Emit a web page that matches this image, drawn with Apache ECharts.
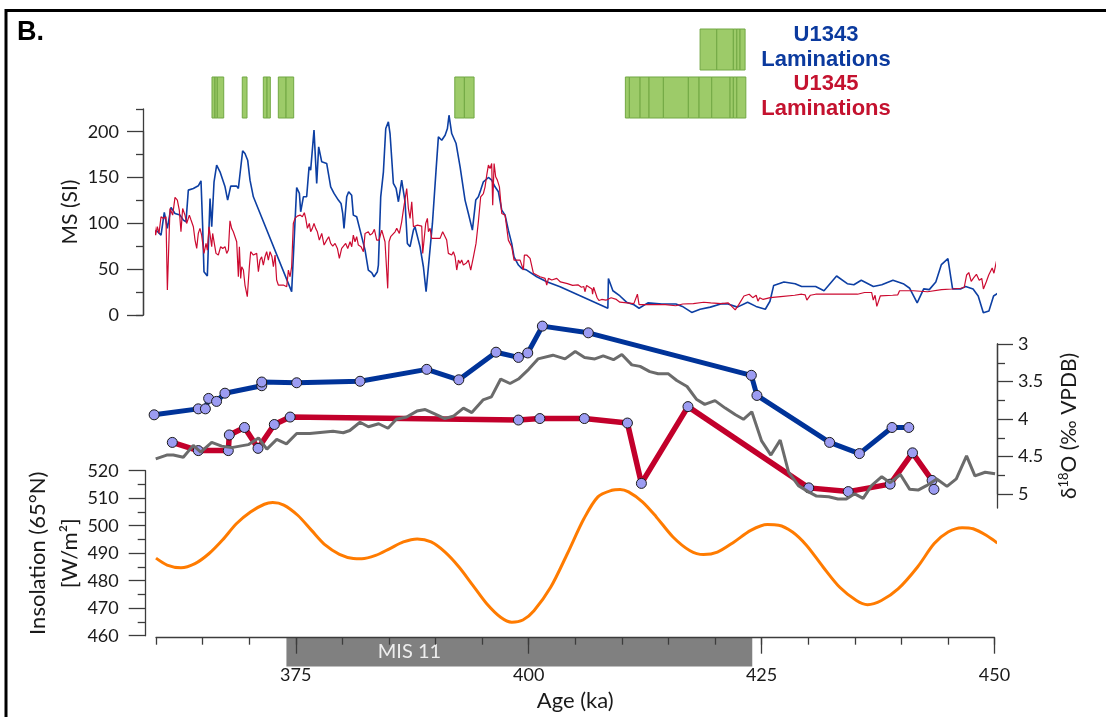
<!DOCTYPE html>
<html><head><meta charset="utf-8">
<script src="https://cdn.jsdelivr.net/npm/echarts@6/dist/echarts.min.js"></script>
<style>html,body{margin:0;padding:0;background:#fff}#c{width:1106px;height:717px}</style>
</head><body><div id="c"></div>
<script>
// ---------------- DATA ----------------
const ageRange = [360, 450];
const ageMajorTicks = [375, 400, 425, 450];

// Magnetic susceptibility (SI) — [age ka, MS]
const msU1343 = [[359.82,90.9],[360.07,92.0],[360.54,87.3],[360.89,112.0],[361.22,94.6],[361.61,117.5],[362.04,110.9],[362.58,109.1],[362.93,103.7],[363.22,101.8],[363.47,136.4],[364.01,138.2],[364.54,141.1],[364.83,146.6],[365.01,96.4],[365.15,47.3],[365.51,42.6],[365.8,127.3],[365.98,96.4],[366.23,145.5],[366.51,163.7],[366.87,156.4],[367.41,140.0],[367.69,125.5],[368.02,140.8],[368.66,140.8],[368.84,138.2],[369.30,179.3],[369.55,176.4],[369.84,169.1],[370.09,147.3],[370.45,129.1],[374.56,25.5],[375.10,139.3],[375.39,132.8],[375.53,112.7],[375.82,129.1],[376.17,129.1],[376.43,161.8],[376.60,158.2],[376.96,201.9],[377.25,143.7],[377.46,183.7],[377.79,167.3],[378.32,165.5],[378.75,140.0],[379.11,132.8],[379.57,125.5],[379.86,121.8],[380.04,110.9],[380.18,94.6],[380.47,129.1],[380.68,134.6],[381.0,130.9],[381.18,109.1],[381.54,107.3],[381.90,92.7],[382.44,70.9],[382.79,49.1],[383.15,46.2],[383.40,41.8],[383.76,47.3],[383.87,54.6],[384.12,129.1],[384.41,156.4],[384.66,203.7],[384.94,210.9],[385.12,198.2],[385.48,143.7],[385.77,138.2],[386.02,123.7],[386.37,147.3],[386.73,123.7],[386.98,78.2],[387.27,74.6],[387.63,92.7],[387.80,96.4],[388.16,81.8],[388.34,74.6],[388.70,52.7],[388.99,25.5],[389.34,63.6],[389.67,100.0],[390.06,158.2],[390.31,194.6],[390.67,190.9],[391.03,196.4],[391.28,203.7],[391.45,218.2],[391.74,198.2],[392.21,187.3],[392.64,161.8],[393.17,125.5],[393.53,110.9],[393.96,92.7],[394.32,125.5],[394.60,129.1],[394.85,136.4],[395.14,145.5],[395.68,150.2],[396.03,147.3],[396.39,140.0],[396.75,134.6],[397.11,114.6],[397.47,109.1],[397.82,92.7],[398.18,78.2],[398.43,63.6],[398.90,54.6],[399.26,50.9],[399.79,49.1],[400.87,41.8],[401.94,36.4],[403.37,30.9],[408.5,7.4],[408.56,39.9],[409.04,26.5],[409.8,20.8],[410.5,14.0],[411.3,11.2],[411.85,7.4],[412.8,13.2],[414.3,12.0],[415.8,12.0],[416.5,9.4],[417.5,2.8],[418.4,6.3],[419.5,8.6],[420.7,12.4],[421.4,12.0],[422.4,8.6],[423.5,14.0],[424.4,9.4],[425.4,6.3],[425.9,15.0],[426.3,32.3],[427.4,36.1],[428.6,34.2],[429.3,31.1],[430.8,31.1],[431.7,26.5],[433.05,42.6],[434.2,34.2],[434.9,33.1],[435.7,38.0],[437.0,31.1],[437.9,33.1],[439.1,38.0],[440.2,34.2],[440.9,29.2],[441.7,13.2],[442.4,28.5],[443.0,27.7],[443.7,36.1],[444.3,55.1],[445.0,61.6],[445.5,28.5],[446.4,28.5],[446.9,31.1],[447.7,28.5],[448.25,20.8],[448.8,2.5],[449.4,4.4],[449.9,20.8],[450.5,24.7]];

const msU1345 = [[359.43,90.9],[359.57,100.0],[359.68,80.0],[359.82,98.2],[359.96,87.3],[360.14,96.4],[360.32,89.1],[360.54,107.3],[360.79,105.5],[361.07,107.3],[361.22,27.3],[361.50,116.4],[361.79,109.1],[362.04,128.4],[362.29,125.5],[362.50,114.6],[362.68,90.9],[362.86,116.4],[363.11,109.1],[363.29,100.0],[363.58,109.1],[363.76,103.7],[364.01,96.4],[364.19,81.8],[364.37,72.7],[364.54,89.1],[364.72,94.6],[364.90,87.3],[365.15,67.3],[365.37,78.2],[365.51,70.9],[365.69,96.4],[365.87,94.6],[365.98,74.6],[366.08,89.1],[366.23,89.1],[366.44,67.3],[366.69,65.5],[366.94,74.6],[367.16,72.7],[367.41,74.6],[367.59,67.3],[367.77,70.9],[367.94,102.9],[368.12,94.6],[368.30,90.9],[368.48,85.5],[368.66,80.0],[368.84,41.8],[368.95,74.6],[369.09,40.0],[369.20,52.7],[369.38,49.1],[369.55,32.7],[369.80,20.0],[370.02,52.7],[370.16,69.1],[370.45,65.5],[370.81,67.3],[370.99,47.3],[371.16,60.0],[371.34,63.6],[371.52,54.6],[371.70,63.6],[371.88,69.1],[372.06,60.0],[372.24,69.1],[372.45,63.6],[372.60,52.7],[372.78,65.5],[372.95,38.2],[373.13,32.7],[373.31,30.9],[373.67,32.7],[374.03,30.9],[374.21,49.1],[374.39,41.8],[374.56,52.7],[374.74,100.0],[374.92,105.5],[375.17,108.0],[375.46,109.1],[375.71,107.3],[375.92,111.7],[376.07,105.5],[376.25,94.6],[376.46,100.0],[376.60,90.9],[376.78,94.6],[376.96,100.0],[377.14,94.6],[377.32,90.9],[377.53,81.8],[377.79,89.1],[378.04,76.4],[378.32,81.8],[378.54,85.5],[378.75,78.2],[378.97,75.3],[379.22,78.2],[379.47,72.7],[379.68,61.8],[379.93,72.7],[380.11,70.9],[380.36,78.2],[380.58,72.7],[380.83,80.0],[381.01,74.6],[381.18,87.3],[381.36,80.0],[381.54,85.5],[381.72,76.4],[382.01,74.6],[382.26,69.1],[382.44,89.1],[382.62,87.3],[382.79,90.9],[382.97,87.3],[383.22,89.1],[383.44,93.5],[383.69,81.8],[383.94,81.8],[384.23,92.7],[384.41,90.9],[384.58,80.0],[384.76,80.0],[384.87,29.1],[385.01,80.0],[385.19,85.5],[385.37,87.3],[385.66,90.9],[385.84,94.6],[386.12,89.1],[386.37,101.8],[386.55,114.6],[386.91,138.2],[387.09,116.4],[387.27,105.5],[387.45,123.7],[387.63,96.4],[387.80,98.2],[388.06,98.2],[388.27,99.3],[388.52,97.1],[388.63,67.3],[388.77,81.8],[388.95,100.0],[389.13,105.5],[389.24,90.9],[389.42,94.6],[389.59,83.7],[389.77,83.7],[390.13,83.7],[390.49,83.7],[390.77,90.9],[391.03,85.5],[391.20,81.8],[391.38,67.3],[391.56,69.1],[391.74,65.5],[391.92,69.1],[392.10,63.6],[392.28,49.1],[392.46,60.0],[392.64,56.4],[392.81,60.0],[392.99,54.6],[393.28,56.4],[393.53,60.0],[393.78,49.1],[394.07,63.6],[394.35,78.2],[394.60,101.8],[394.85,129.1],[395.14,132.7],[395.32,140.0],[395.50,152.8],[395.68,163.7],[395.86,160.0],[396.03,165.5],[396.14,120.0],[396.29,165.5],[396.46,151.0],[396.64,147.3],[396.86,140.0],[397.11,110.9],[397.47,109.1],[397.82,81.8],[398.18,74.6],[398.43,60.0],[398.72,60.0],[399.08,60.0],[399.26,60.0],[399.43,49.1],[399.54,65.5],[399.79,65.5],[400.15,61.8],[400.51,45.5],[400.87,43.6],[401.22,41.8],[401.76,40.0],[401.94,32.7],[402.12,40.0],[402.48,38.2],[403.01,40.0],[403.41,36.1],[404.16,34.2],[404.72,32.3],[405.29,33.0],[405.66,30.3],[405.92,31.1],[406.04,25.4],[406.22,32.3],[406.79,28.4],[406.86,22.7],[406.97,30.3],[407.35,18.9],[407.54,15.8],[407.84,17.0],[408.29,16.2],[408.85,18.9],[409.41,17.0],[409.79,14.0],[410.54,13.2],[411.29,12.4],[411.67,22.7],[411.85,11.3],[412.04,10.1],[412.79,11.3],[413.54,11.3],[414.67,11.3],[415.79,10.1],[416.54,12.0],[417.67,12.4],[418.79,13.9],[419.54,13.2],[420.67,12.4],[421.42,13.2],[422.17,5.6],[422.55,11.3],[423.11,20.8],[423.30,18.9],[423.67,22.7],[424.05,18.9],[424.42,21.6],[424.61,15.1],[424.80,18.9],[425.17,17.0],[425.92,18.9],[427.05,20.1],[428.55,21.6],[429.30,22.7],[429.68,22.0],[429.86,16.2],[430.24,21.6],[430.80,22.7],[432.30,22.7],[434.18,22.7],[435.30,22.7],[436.05,24.6],[436.81,24.6],[436.99,16.2],[437.18,21.6],[437.37,9.4],[437.56,7.5],[437.74,20.8],[437.93,19.7],[439.06,21.6],[439.62,22.0],[439.81,26.5],[441.31,26.5],[442.81,25.4],[444.31,27.7],[445.44,28.4],[446.37,29.2],[446.75,30.3],[447.01,43.7],[447.24,46.4],[447.50,36.8],[447.76,40.6],[448.06,44.5],[448.36,38.0],[448.63,39.9],[448.81,28.4],[449.11,36.1],[449.38,43.7],[449.75,51.3],[449.94,45.6],[450.13,55.1],[450.32,63.5],[450.50,66.6],[450.69,57.0],[450.88,60.9],[451.07,45.6],[451.26,34.2],[451.63,22.7],[452.01,26.5],[452.39,22.7],[452.57,13.2]];

// Benthic δ18O (‰ VPDB) — [age ka, δ18O]
const d18oU1343 = [[359.8,3.95],[364.54,3.87],[365.3,3.87],[365.65,3.73],[366.5,3.77],[367.4,3.66],[371.35,3.56],[371.35,3.51],[375.1,3.52],[381.9,3.50],[389.06,3.34],[392.5,3.48],[396.5,3.11],[398.9,3.18],[399.9,3.12],[401.47,2.76],[406.4,2.85],[423.9,3.42],[424.5,3.69],[432.3,4.32],[435.5,4.47],[439.0,4.12],[440.8,4.12]];
const d18oU1345 = [[361.75,4.32],[364.54,4.43],[367.76,4.43],[367.87,4.22],[369.5,4.12],[370.95,4.40],[372.7,4.08],[374.4,3.98],[398.9,4.02],[401.2,4.0],[405.98,4.0],[410.6,4.06],[412.1,4.87],[417.1,3.84],[430.06,4.93],[434.3,4.98],[438.8,4.88],[441.2,4.46],[443.3,4.83],[443.5,4.95]];
const d18oStack = [[359.97,4.54],[361.15,4.49],[361.86,4.49],[362.93,4.52],[364.0,4.36],[364.8,4.45],[365.98,4.32],[367.05,4.37],[368.1,4.39],[369.9,4.35],[371.0,4.26],[371.9,4.41],[372.96,4.28],[374.0,4.34],[375.1,4.2],[376.5,4.2],[379.0,4.17],[380.1,4.19],[380.8,4.16],[381.9,4.05],[382.8,4.11],[383.9,4.07],[384.9,4.13],[385.8,4.01],[386.9,3.98],[388.0,3.90],[388.9,3.88],[389.8,3.93],[391.0,4.0],[391.9,3.97],[393.0,3.86],[393.9,3.92],[395.1,3.75],[396.0,3.71],[397.0,3.47],[398.0,3.53],[398.9,3.47],[400.0,3.34],[401.0,3.2],[402.6,3.15],[403.9,3.2],[405.0,3.1],[406.0,3.18],[407.1,3.2],[408.0,3.16],[409.1,3.21],[410.0,3.14],[411.07,3.28],[411.96,3.30],[413.0,3.37],[413.9,3.4],[415.0,3.4],[415.9,3.49],[417.0,3.57],[418.0,3.74],[418.9,3.81],[420.0,3.76],[421.1,3.86],[422.2,3.95],[423.05,4.01],[423.95,3.91],[425.0,4.30],[426.0,4.49],[427.0,4.29],[427.9,4.72],[428.95,4.9],[430.0,4.98],[430.9,5.04],[432.2,5.05],[433.2,5.08],[434.1,5.08],[435.0,5.01],[435.9,5.07],[436.8,4.9],[437.9,4.78],[438.8,4.86],[439.9,4.75],[440.9,4.95],[441.8,4.96],[442.7,4.9],[443.8,4.81],[444.9,4.91],[445.9,4.81],[447.0,4.5],[447.9,4.77],[449.0,4.72],[450.06,4.74]];

// Summer insolation 65°N (W/m²) — [age ka, value]
const insolation65N = [[360.0,488.2],[361.19,485.7],[362.68,484.7],[364.18,486.2],[365.67,489.8],[367.16,494.9],[368.65,500.8],[370.14,505.0],[371.63,507.8],[372.53,508.4],[373.72,507.5],[375.21,503.8],[376.70,498.3],[378.19,492.9],[379.69,489.6],[381.18,488.1],[382.08,488.0],[383.57,489.2],[385.06,491.6],[386.55,494.1],[388.04,495.2],[389.53,494.1],[391.03,490.4],[392.52,485.0],[394.01,478.3],[395.50,471.6],[396.99,466.7],[398.19,464.9],[399.38,465.7],[400.57,469.1],[402.36,477.6],[404.15,489.8],[405.94,502.6],[407.43,510.5],[408.93,512.9],[409.82,513.2],[410.72,512.3],[412.21,508.7],[413.70,503.2],[415.49,495.9],[417.28,491.0],[418.77,489.5],[420.26,490.4],[422.05,494.1],[423.84,498.3],[425.63,500.4],[426.83,500.2],[428.32,497.7],[429.81,492.9],[431.60,485.0],[433.39,477.6],[435.18,472.8],[436.37,471.3],[437.86,472.8],[439.65,477.0],[441.74,485.0],[443.53,493.5],[445.02,497.7],[446.52,499.3],[447.71,498.9],[449.11,496.5],[450.30,493.7]];

// Lamination intervals [start ka, end ka]
const lamU1345 = [[366.01,366.33],[366.33,366.58],[366.58,367.27],[369.26,369.77],[371.52,371.92],[371.92,372.27],[373.13,373.96],[373.96,374.78],[392.07,393.10],[393.10,394.14],[410.38,410.81],[410.81,411.96],[411.96,412.92],[412.92,414.46],[414.46,417.14],[417.14,418.29],[418.29,419.65],[419.65,421.62],[421.62,421.97],[421.97,422.34],[422.34,423.31]];
const lamU1343 = [[418.40,420.19],[420.19,421.97],[421.97,422.34],[422.34,422.69],[422.69,423.23]];

// Marine isotope stage
const misStages = [['MIS 11', 374, 424]];

// ---------------- CHART ----------------
const AX = '#3c3c3c';
const TXT = '#1a1a1a';
const FONT = 'Lato';
const L = 156, R = 111.5;
const lineS = {color: AX, width: 1.3};
const lbl = (m) => ({show: true, margin: m, fontFamily: FONT, fontSize: 18, color: TXT});
const nameStyle = {fontFamily: FONT, fontSize: 21, color: TXT};
const hiddenX = (g) => ({type: 'value', gridIndex: g, min: ageRange[0], max: ageRange[1], show: false});

const lamData = lamU1345.map(d => [d[0], d[1], 0]).concat(lamU1343.map(d => [d[0], d[1], 1.17]));

function lamItem(params, api) {
  const a = api.coord([api.value(0), api.value(2)]);
  const b = api.coord([api.value(1), api.value(2) + 1]);
  return {type: 'rect', shape: {x: a[0], y: b[1], width: b[0] - a[0], height: a[1] - b[1]},
    style: {fill: '#9DCB69', stroke: '#72A844', lineWidth: 1}};
}
function misItem(params, api) {
  const a = api.coord([api.value(0), 0]);
  const b = api.coord([api.value(1), 1]);
  const t = api.coord([387.2, 0.5]);
  return {type: 'group', children: [
    {type: 'rect', shape: {x: a[0], y: b[1], width: b[0] - a[0], height: a[1] - b[1]}, style: {fill: '#808080'}},
    {type: 'text', x: t[0], y: t[1], style: {text: misStages[params.dataIndex][0], fill: '#EEEEEE', font: '20px Lato', align: 'center', verticalAlign: 'middle'}}
  ]};
}

const chart = echarts.init(document.getElementById('c'), null, {renderer: 'canvas'});
chart.setOption({
  animation: false,
  backgroundColor: '#ffffff',
  grid: [
    {left: L, right: R, top: 29, height: 89},       // 0 laminations
    {left: L, right: R, top: 109, height: 206},     // 1 MS data
    {left: L, right: R, top: 131.7, height: 183.3}, // 2 MS labelled axis
    {left: L, right: R, top: 344, height: 164},     // 3 d18O data
    {left: L, right: R, top: 344, height: 150},     // 4 d18O labelled axis
    {left: L, right: R, top: 470.7, height: 165},   // 5 insolation
    {left: L + 15 * 838.5 / 90, right: R, top: 470.7, height: 165}, // 6 major age ticks
    {left: L, right: R, top: 637.5, height: 29}     // 7 MIS box
  ],
  xAxis: [
    hiddenX(0), hiddenX(1), hiddenX(2), hiddenX(3), hiddenX(4),
    {type: 'value', gridIndex: 5, min: ageRange[0], max: ageRange[1], interval: 5, offset: 2, z: 10,
      axisLine: {show: true, onZero: false, lineStyle: lineS},
      axisTick: {show: true, length: 7, lineStyle: lineS},
      axisLabel: {show: false}, splitLine: {show: false},
      name: 'Age (ka)', nameLocation: 'middle', nameGap: 52, nameMoveOverlap: false, nameTextStyle: Object.assign({}, nameStyle, {fontSize: 22})},
    {type: 'value', gridIndex: 6, min: ageMajorTicks[0], max: ageMajorTicks[ageMajorTicks.length - 1], interval: 25, offset: 2, z: 10,
      axisLine: {show: false, onZero: false},
      axisTick: {show: true, length: 16, lineStyle: lineS},
      axisLabel: lbl(28), splitLine: {show: false}},
    hiddenX(7)
  ],
  yAxis: [
    {type: 'value', gridIndex: 0, min: 0, max: 2.17, show: false},
    {type: 'value', gridIndex: 1, min: 0, max: 225, interval: 225, offset: 13,
      axisLine: {show: true, lineStyle: lineS}, axisTick: {show: true, length: 7, lineStyle: lineS},
      axisLabel: {show: false}, splitLine: {show: false},
      name: 'MS (SI)', nameLocation: 'middle', nameRotate: 90, nameGap: 62, nameMoveOverlap: false, nameTextStyle: nameStyle},
    {type: 'value', gridIndex: 2, min: 0, max: 200, interval: 50, offset: 13,
      axisLine: {show: true, lineStyle: lineS}, axisTick: {show: true, length: 16, lineStyle: lineS},
      minorTick: {show: true, splitNumber: 2, length: 7, lineStyle: lineS}, minorSplitLine: {show: false},
      axisLabel: lbl(24), splitLine: {show: false}},
    {type: 'value', gridIndex: 3, min: 3, max: 5.2, inverse: true, position: 'right', offset: 2.5,
      axisLine: {show: true, lineStyle: lineS}, axisTick: {show: false}, axisLabel: {show: false}, splitLine: {show: false},
      name: 'δ{s|18}O (‰ VPDB)', nameLocation: 'middle', nameRotate: 90, nameGap: 60, nameMoveOverlap: false,
      nameTextStyle: Object.assign({}, nameStyle, {lineHeight: 24, rich: {s: {fontFamily: FONT, fontSize: 13, color: TXT, verticalAlign: 'top', lineHeight: 24}}})},
    {type: 'value', gridIndex: 4, min: 3, max: 5, interval: 0.5, inverse: true, position: 'right', offset: 2.5,
      axisLine: {show: true, lineStyle: lineS}, axisTick: {show: true, length: 16, lineStyle: lineS},
      minorTick: {show: true, splitNumber: 2, length: 8, lineStyle: lineS}, minorSplitLine: {show: false},
      axisLabel: lbl(21), splitLine: {show: false}},
    {type: 'value', gridIndex: 5, min: 460, max: 520, interval: 10, offset: 10.3,
      axisLine: {show: true, lineStyle: lineS}, axisTick: {show: true, length: 17, lineStyle: lineS},
      minorTick: {show: true, splitNumber: 2, length: 8, lineStyle: lineS}, minorSplitLine: {show: false},
      axisLabel: lbl(27), splitLine: {show: false},
      name: 'Insolation (65°N)\n[W/m²]', nameLocation: 'middle', nameRotate: 90, nameGap: 60, nameMoveOverlap: false,
      nameTextStyle: Object.assign({}, nameStyle, {fontSize: 22, lineHeight: 32})},
    {type: 'value', gridIndex: 6, min: 460, max: 520, show: false},
    {type: 'value', gridIndex: 7, min: 0, max: 1, show: false}
  ],
  graphic: [
    {type: 'rect', shape: {x: 6, y: 10.5, width: 1200, height: 800}, style: {fill: 'none', stroke: '#000', lineWidth: 3}, z: 100},
    {type: 'text', x: 17, y: 33, style: {text: 'B.', font: 'bold 27px "Liberation Sans"', fill: '#000', verticalAlign: 'middle'}},
    {type: 'text', x: 826, y: 35, style: {text: 'U1343', font: 'bold 22px "Liberation Sans"', fill: '#0B3A9E', align: 'center', verticalAlign: 'middle'}},
    {type: 'text', x: 826, y: 60, style: {text: 'Laminations', font: 'bold 22px "Liberation Sans"', fill: '#0B3A9E', align: 'center', verticalAlign: 'middle'}},
    {type: 'text', x: 826, y: 84, style: {text: 'U1345', font: 'bold 22px "Liberation Sans"', fill: '#C4122F', align: 'center', verticalAlign: 'middle'}},
    {type: 'text', x: 826, y: 109, style: {text: 'Laminations', font: 'bold 22px "Liberation Sans"', fill: '#C4122F', align: 'center', verticalAlign: 'middle'}}
  ],
  series: [
    {type: 'custom', xAxisIndex: 0, yAxisIndex: 0, renderItem: lamItem, data: lamData, encode: {x: [0, 1], y: 2}, clip: false},
    {type: 'line', xAxisIndex: 1, yAxisIndex: 1, data: msU1343, symbol: 'none', clip: false,
      lineStyle: {color: '#0D3FA3', width: 1.6}, z: 3},
    {type: 'line', xAxisIndex: 1, yAxisIndex: 1, data: msU1345, symbol: 'none', clip: false,
      lineStyle: {color: '#CC0A30', width: 1.2}, z: 4},
    {type: 'line', xAxisIndex: 3, yAxisIndex: 3, data: d18oU1343, symbol: 'circle', symbolSize: 10, clip: false,
      lineStyle: {color: '#003399', width: 5}, itemStyle: {color: '#9C9CF2', borderColor: '#1a1a1a', borderWidth: 1}, z: 5},
    {type: 'line', xAxisIndex: 3, yAxisIndex: 3, data: d18oU1345, symbol: 'circle', symbolSize: 10, clip: false,
      lineStyle: {color: '#C2002B', width: 5.5}, itemStyle: {color: '#9C9CF2', borderColor: '#1a1a1a', borderWidth: 1}, z: 5},
    {type: 'line', xAxisIndex: 3, yAxisIndex: 3, data: d18oStack, symbol: 'none', clip: false,
      lineStyle: {color: '#6B6B6B', width: 3}, z: 6},
    {type: 'line', xAxisIndex: 5, yAxisIndex: 5, data: insolation65N, symbol: 'none', smooth: 0.3, clip: false,
      lineStyle: {color: '#FF7B00', width: 3}},
    {type: 'custom', xAxisIndex: 7, yAxisIndex: 7, renderItem: misItem, data: misStages.map(m => [m[1], m[2]]), encode: {x: [0, 1]}, clip: false, z: 1}
  ]
});
</script></body></html>
